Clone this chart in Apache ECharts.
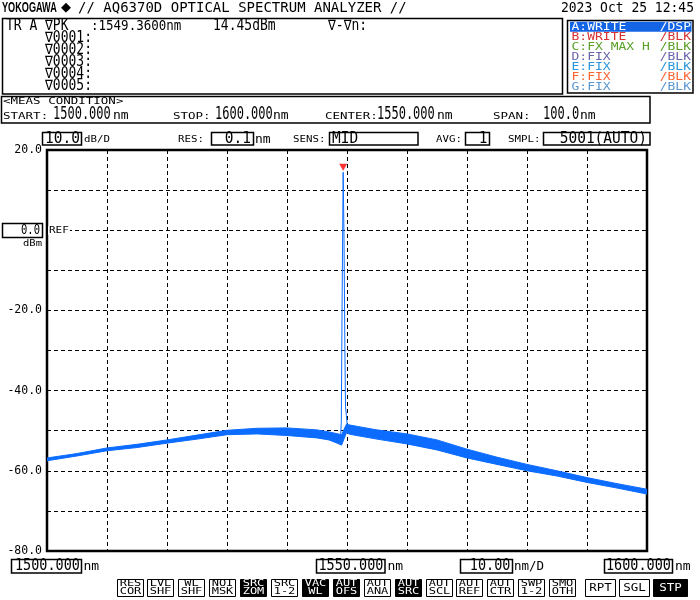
<!DOCTYPE html>
<html><head><meta charset="utf-8">
<script src="https://cdn.jsdelivr.net/npm/echarts@6/dist/echarts.min.js"></script>
<style>html,body{margin:0;padding:0;background:#fff}#c{width:700px;height:600px}</style>
</head><body><div id="c"></div>
<script>
// ---- data ----
const bandWl     = [1500, 1505, 1510, 1515, 1520, 1525, 1530, 1535, 1540, 1545, 1547, 1548.5, 1549.1, 1549.9, 1550.5, 1552, 1555, 1560, 1565, 1570, 1575, 1580, 1585, 1590, 1595, 1600];
const bandTop    = [-56.8, -55.7, -54.3, -53.4, -52.3, -51.1, -49.9, -49.4, -49.3, -49.8, -50.3, -50.8, -51.0, -48.4, -48.6, -49.0, -49.8, -50.8, -52.3, -54.6, -56.6, -58.4, -60.0, -61.7, -63.2, -64.6];
const bandBottom = [-57.5, -56.3, -55.0, -54.2, -53.1, -52.1, -51.0, -50.8, -51.2, -51.8, -52.3, -53.2, -53.6, -50.5, -50.9, -51.3, -52.1, -53.3, -54.8, -56.8, -58.4, -60.0, -61.3, -62.9, -64.3, -65.8];
const peakWl     = [1548.9, 1549.05, 1549.2, 1549.36, 1549.5, 1549.65, 1549.75, 1549.9, 1550.05];
const peakDbm    = [-52.5, -47.8, -15.3, 14.45, -2.0, -30.0, -44.0, -46.2, -48.8];
const peakMarker = [1549.36, 14.45];
const yLabelValues = [20, -20, -40, -60, -80];
const xMin = 1500, xMax = 1600, xStep = 10;
const yMin = -80, yMax = 20, yStep = 10;
const buttonLabels = [['RES','COR'],['LVL','SHF'],['WL','SHF'],['NOI','MSK'],['SRC','ZOM'],['SRC','1-2'],['VAC','WL'],['AUT','OFS'],['AUT','ANA'],['AUT','SRC'],['AUT','SCL'],['AUT','REF'],['AUT','CTR'],['SWP','1-2'],['SMO','OTH']];
const buttonDark = [4, 6, 7, 9];
const traceRows = [['A:WRITE','/DSP'],['B:WRITE','/BLK'],['C:FX MAX H','/BLK'],['D:FIX','/BLK'],['E:FIX','/BLK'],['F:FIX','/BLK'],['G:FIX','/BLK']];
const traceColors = ['#ffffff','#d83232','#5aa028','#6a64aa','#2896dc','#fa6432','#5a96d2'];

const BLUE = '#0b6cff';
const MONO = '"DejaVu Sans Mono","Liberation Mono",monospace';

function txt(x, y, s, o) {
  o = o || {};
  return {type:'text', x:x, y:y, scaleX:o.sx||1, scaleY:o.sy||1, z:100, silent:true,
    style:{text:s, x:0, y:0, fill:o.c||'#000',
      font:(o.w||'normal')+' '+(o.fs||13)+'px '+(o.ff||MONO),
      textAlign:o.a||'left', align:o.a||'left', textVerticalAlign:'middle', verticalAlign:'middle',
      backgroundColor:o.bg, padding:o.bg?[0,1]:0}};
}
function box(x, y, w, h, o) {
  o = o || {};
  return {type:'rect', z:o.z||90, silent:true, shape:{x:x, y:y, width:w, height:h},
    style:{fill:o.fill||'none', stroke:o.stroke===undefined?'#000':o.stroke, lineWidth:o.lw||1}};
}
const SC = {fs:12.5, sy:0.68};   // small caps style
const SC2 = {fs:10.8, sy:0.8};
const BIG = {fs:12, sy:1.5};
const g = [];
// header
g.push(txt(2, 8, 'YOKOGAWA', {ff:'"Liberation Sans",Arial,sans-serif', w:'bold', fs:14.5, sx:0.63}));
g.push(txt(61, 8, '\u25C6', {ff:'"DejaVu Sans",sans-serif', fs:13}));
g.push(txt(78, 8, '// AQ6370D OPTICAL SPECTRUM ANALYZER //', {fs:14, sy:1.05}));
g.push(txt(694, 8, '2023 Oct 25 12:45', {fs:13, a:'right', sy:1.05}));
// marker box
g.push(box(2.5, 18.5, 560, 75.5, {lw:1.5}));
g.push(txt(6, 26, 'TR A', {sy:1.15}));
g.push(txt(45, 26, '\u2207PK', {sy:1.15}));
g.push(txt(91, 26, ':1549.3600nm', {fs:12.5, sy:1.15}));
g.push(txt(213, 26, '14.45dBm', {sy:1.15}));
g.push(txt(328, 26, '\u2207-\u2207n:', {sy:1.15}));
for (let i = 0; i < 5; i++) g.push(txt(45, 38 + 12*i, '\u22070' + '00' + (i+1) + ':', {sy:1.15}));
// trace box
g.push(box(567.5, 20.5, 125.5, 72.5, {lw:1.5}));
g.push(box(570, 21.7, 121.5, 10, {fill:'#1464e6', stroke:'none'}));
traceRows.forEach((r, i) => {
  g.push(txt(571.5, 26.7 + 10.1*i, r[0], {c:traceColors[i], sy:0.85}));
  g.push(txt(691, 26.7 + 10.1*i, r[1], {c:traceColors[i], sy:0.85, a:'right'}));
});
// meas condition
g.push(box(1.5, 96.5, 648.5, 26.5, {lw:1.5}));
g.push(txt(3, 102, '<MEAS CONDITION>', SC));
g.push(txt(3, 116.5, 'START:', SC)); g.push(txt(53, 114.5, '1500.000', BIG)); g.push(txt(113, 116, 'nm'));
g.push(txt(173, 116.5, 'STOP:', SC)); g.push(txt(215, 114.5, '1600.000', BIG)); g.push(txt(273, 116, 'nm'));
g.push(txt(325, 116.5, 'CENTER:', SC)); g.push(txt(377, 114.5, '1550.000', BIG)); g.push(txt(437, 116, 'nm'));
g.push(txt(493, 116.5, 'SPAN:', SC)); g.push(txt(543, 114.5, '100.0', BIG)); g.push(txt(580, 116, 'nm'));
// settings row
const MID = {fs:14.5, sy:1.05};
g.push(box(42.5, 132.5, 39, 12.5, {lw:1.5})); g.push(txt(80, 139, '10.0', Object.assign({a:'right'}, MID))); g.push(txt(84, 139.5, 'dB/D', SC2));
g.push(txt(178, 139.5, 'RES:', SC2)); g.push(box(211.5, 132.5, 42, 12.5, {lw:1.5})); g.push(txt(251, 139, '0.1', Object.assign({a:'right'}, MID))); g.push(txt(255, 139.5, 'nm'));
g.push(txt(293, 139.5, 'SENS:', SC2)); g.push(box(329.5, 132.5, 88.5, 12.5, {lw:1.5})); g.push(txt(332, 139, 'MID', MID));
g.push(txt(436, 139.5, 'AVG:', SC2)); g.push(box(465.5, 132.5, 24, 12.5, {lw:1.5})); g.push(txt(487.5, 139, '1', Object.assign({a:'right'}, MID)));
g.push(txt(508, 139.5, 'SMPL:', SC2)); g.push(box(543.5, 132.5, 106.5, 12.5, {lw:1.5})); g.push(txt(647, 139, '5001(AUTO)', Object.assign({a:'right'}, MID)));
// reference level box
g.push(box(2.5, 223.5, 40, 14, {lw:1.5}));
g.push(txt(40, 230.5, '0.0', {fs:10.5, sy:1.3, a:'right'}));
g.push(txt(42, 243.5, 'dBm', {fs:10.5, sy:0.85, a:'right'}));
g.push(txt(48, 230.5, 'REF', {fs:11, sy:0.75, bg:'#fff'}));
// bottom wavelength row
const BW = {fs:13.5, sy:1.15, a:'right'};
g.push(box(11.5, 559.5, 70, 13.5, {lw:1.5})); g.push(txt(80, 566.3, '1500.000', BW)); g.push(txt(83.5, 567, 'nm'));
g.push(box(316.5, 559.5, 68.5, 13.5, {lw:1.5})); g.push(txt(383.5, 566.3, '1550.000', BW)); g.push(txt(387.5, 567, 'nm'));
g.push(box(460.5, 559.5, 52, 13.5, {lw:1.5})); g.push(txt(510.5, 566.3, '10.00', BW)); g.push(txt(514, 567, 'nm/D', {fs:12.5}));
g.push(box(604.5, 559.5, 68, 13.5, {lw:1.5})); g.push(txt(671, 566.3, '1600.000', BW)); g.push(txt(675, 567, 'nm'));
// buttons
buttonLabels.forEach((b, i) => {
  const x = 116.5 + 30.9*i, dark = buttonDark.indexOf(i) >= 0;
  g.push(box(Math.round(x)+0.5, 579.5, 26, 17, {fill:dark?'#000':'#fff'}));
  const c = dark ? '#fff' : '#000';
  g.push(txt(Math.round(x)+13.5, 584, b[0], {fs:12, sy:0.75, a:'center', c:c}));
  g.push(txt(Math.round(x)+13.5, 592, b[1], {fs:12, sy:0.75, a:'center', c:c}));
});
[['RPT',585.5,30,false],['SGL',619.5,30,false],['STP',653.5,34,true]].forEach(b => {
  g.push(box(b[1], 579.5, b[2], 17, {fill:b[3]?'#000':'#fff'}));
  g.push(txt(b[1] + b[2]/2, 588, b[0], {fs:12.5, sy:0.85, a:'center', c:b[3]?'#fff':'#000'}));
});

const chart = echarts.init(document.getElementById('c'), null, {renderer:'canvas'});
chart.setOption({
  backgroundColor:'#fff',
  animation:false,
  grid:{left:47, top:150, width:600, height:401, show:true, borderColor:'#000', borderWidth:2.5, backgroundColor:'#fff'},
  xAxis:{type:'value', min:xMin, max:xMax, interval:xStep,
    axisLine:{show:false}, axisTick:{show:false}, axisLabel:{show:false},
    splitLine:{show:true, lineStyle:{color:'#000', width:1, type:[4,3]}}},
  yAxis:{type:'value', min:yMin, max:yMax, interval:yStep,
    axisLine:{show:false}, axisTick:{show:false},
    axisLabel:{margin:5, color:'#000', fontFamily:MONO, fontSize:11.5,
      formatter:v => yLabelValues.indexOf(v) >= 0 ? v.toFixed(1) : ''},
    splitLine:{show:true, lineStyle:{color:'#000', width:1, type:[4,3]}}},
  series:[
    {type:'custom', name:'band', silent:true, clip:true, z:3,
      data:bandWl.map((w,i)=>[w, bandTop[i], bandBottom[i]]),
      encode:{x:0, y:[1,2]},
      renderItem:(params, api) => {
        if (params.dataIndex !== 0) return null;
        const pts = [];
        for (let i = 0; i < bandWl.length; i++) pts.push(api.coord([bandWl[i], bandTop[i]]));
        for (let i = bandWl.length - 1; i >= 0; i--) pts.push(api.coord([bandWl[i], bandBottom[i]]));
        return {type:'polygon', shape:{points:pts}, style:{fill:BLUE, stroke:BLUE, lineWidth:1}};
      }},
    {type:'line', name:'peak', symbol:'none', silent:true, z:5,
      lineStyle:{color:BLUE, width:1}, data:peakWl.map((w,i)=>[w, peakDbm[i]])},
    {type:'scatter', name:'marker', symbol:'triangle', symbolRotate:180, symbolSize:[8,7], symbolOffset:[0,-5],
      itemStyle:{color:'#ff0000'}, z:6, silent:true, data:[peakMarker]}
  ],
  graphic:g
});
</script></body></html>
